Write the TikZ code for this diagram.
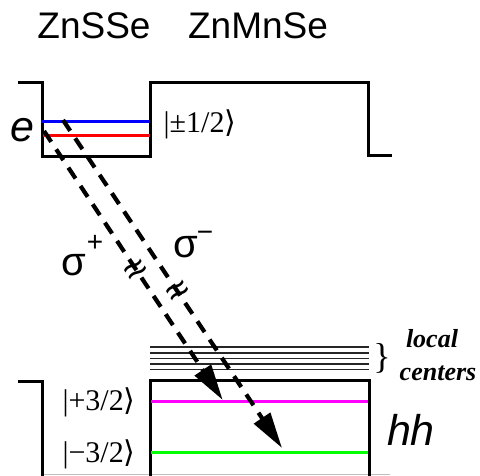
\documentclass[tikz,border=0pt]{standalone}
\usepackage{fontspec}
\setmainfont{Liberation Serif}
\setsansfont{Liberation Sans}
\newfontfamily\djv{DejaVu Sans}
\usetikzlibrary{arrows.meta}
\definecolor{cblue}{RGB}{0,0,255}
\definecolor{cred}{RGB}{255,0,0}
\definecolor{cmag}{RGB}{255,0,255}
\definecolor{cgreen}{RGB}{0,255,0}
\begin{document}
\begin{tikzpicture}[x=1pt,y=-1pt,
  band/.style={line width=3pt, line join=miter},
  level/.style={line width=3pt},
  loc/.style={line width=1.2pt, black!85},
  trans/.style={line width=4.2pt, dash pattern=on 13pt off 9pt, -{Triangle[length=36pt,width=19pt]}},
  title/.style={font=\fontsize{37}{40}\selectfont\sffamily, anchor=base, inner sep=0pt},
  ket/.style={font=\fontsize{30}{32}\selectfont, anchor=base, inner sep=0pt},
  sig/.style={font=\fontsize{40}{42}\selectfont\sffamily, anchor=base, inner sep=0pt},
  sgn/.style={font=\fontsize{28}{30}\selectfont\sffamily, inner sep=0pt},
  brk/.style={font=\fontsize{40}{42}\selectfont\sffamily, inner sep=0pt, rotate=33},
  big/.style={font=\fontsize{43}{46}\selectfont\sffamily\itshape, anchor=base, inner sep=0pt},
  lc/.style={font=\fontsize{26}{28}\selectfont\bfseries\itshape, anchor=base, inner sep=0pt}]
\useasboundingbox (0,0) rectangle (480,475);
% titles
\node[title] (t1) at (94,38) {ZnSSe};
\node[title] (t2) at (258,38) {ZnMnSe};
% conduction band
\draw[band] (18,82) -- (42,82) -- (42,156) -- (150,156) -- (150,82) -- (368,82) -- (368,155) -- (392,155);
\draw[level, cblue] (41,121.7) -- (150,121.7);
\draw[level, cred] (43,135) -- (150,135);
\node[big] (e) at (22,141) {e};
\node[ket] (k1) at (200,132) {|±1/2{\djv ⟩}};
% valence band
\draw[gray!50, line width=1pt] (42,474) -- (390,474);
\draw[band] (18,381) -- (42,381) -- (42,477);
\draw[band] (150,477) -- (150,380) -- (369,380) -- (369,477);
\foreach \yy in {347,353,358.5,364,369.5} \draw[loc] (150,\yy) -- (369,\yy);
\draw[level, cmag] (151,401.7) -- (368,401.7);
\draw[level, cgreen] (151,452) -- (368,452);
\node[ket] (k2) at (99,410) {|+3/2{\djv ⟩}};
\node[ket] (k3) at (99,462) {|−3/2{\djv ⟩}};
\node[big] (hh) at (411,445) {hh};
\node[font=\fontsize{36}{38}\selectfont, anchor=base, inner sep=0pt] (br) at (382,368) {\}};
\node[lc] (l1) at (432,347) {local};
\node[lc] (l2) at (438,380) {centers};
% transitions
\coordinate (s1) at (44,131);
\coordinate (e1) at (222.7,400);
\coordinate (s2) at (63,120);
\coordinate (e2) at (282,448);
\draw[trans] (s1) -- (e1);
\draw[trans] (s2) -- (e2);
\node[brk] (b1) at (137,272) {≈};
\node[brk] (b2) at (179,293) {≈};
\node[sig] (sp) at (74,275) {σ};
\node[sgn] (pl) at (95,243) {+};
\node[sig] (sm) at (186,257) {σ};
\node[sgn] (mi) at (205,236) {−};
\end{tikzpicture}
\end{document}
